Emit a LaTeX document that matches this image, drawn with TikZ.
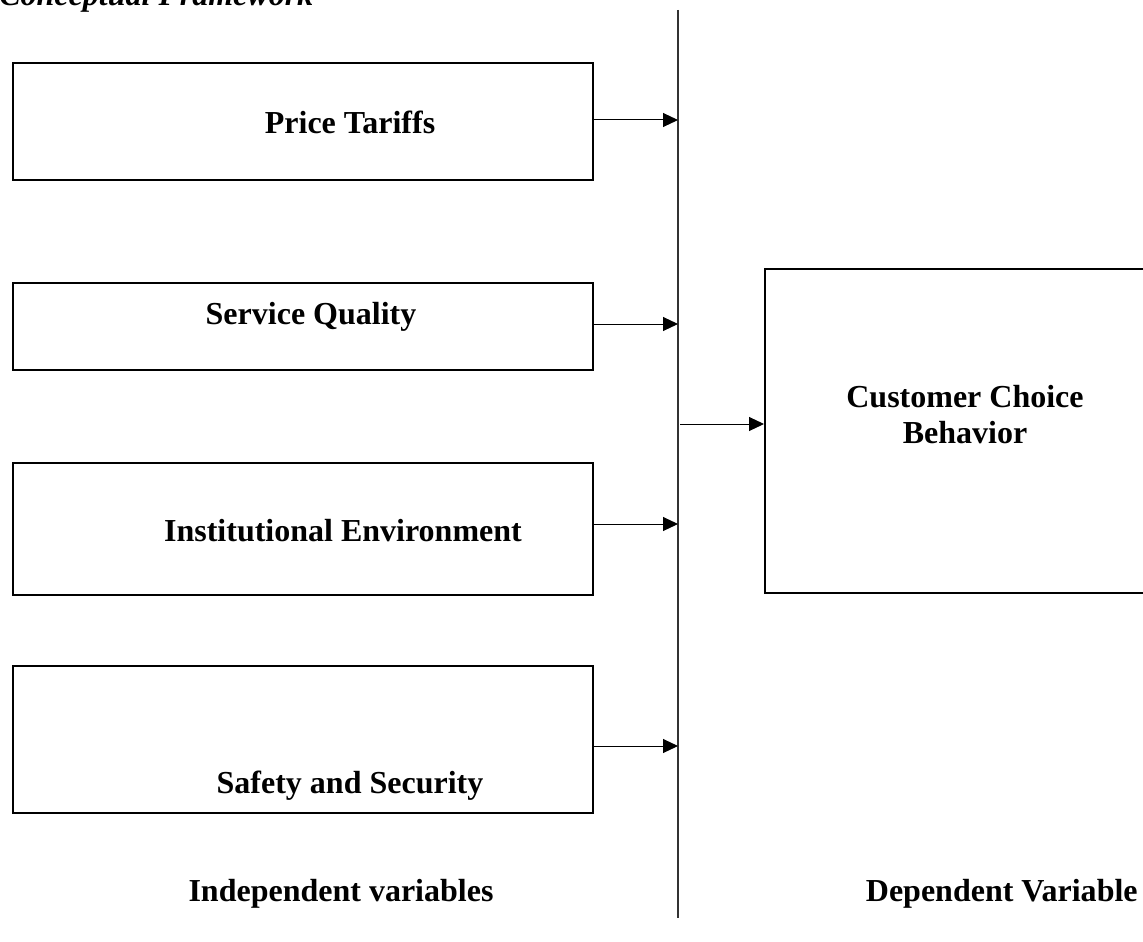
\documentclass[tikz,border=0pt]{standalone}
\usepackage{fontspec}
\setmainfont{Liberation Serif}
\usetikzlibrary{arrows.meta}
\tikzset{
  boxnode/.style={draw=black, line width=1pt, inner sep=0pt, anchor=north west},
  lbl/.style={font=\fontsize{16}{18}\selectfont\bfseries, anchor=base, inner sep=0pt},
  conn/.style={line width=0.5pt, -{Triangle[length=7.5pt,width=7pt]}},
}
\begin{document}
\begin{tikzpicture}[x=0.5pt,y=-0.5pt]
\useasboundingbox (0,0) rectangle (1143,941);
% title (cut at top)
\node[font=\fontsize{16}{18}\selectfont\bfseries\itshape, anchor=base west, inner sep=0pt] (title) at (-1,6) {Conceptual Framework};
% boxes
\node[boxnode, minimum width=290pt, minimum height=58.5pt] (b1) at (12,62) {};
\node[boxnode, minimum width=290pt, minimum height=43.5pt] (b2) at (12,282) {};
\node[boxnode, minimum width=290pt, minimum height=66pt] (b3) at (12,462) {};
\node[boxnode, minimum width=290pt, minimum height=73.5pt] (b4) at (12,665) {};
\node[boxnode, minimum width=203pt, minimum height=162pt] (rb) at (764,268) {};
% texts
\node[lbl] (t1) at (350,134) {Price Tariffs};
\node[lbl] (t2) at (311,324) {Service Quality};
\node[lbl] (t3) at (343,541) {Institutional Environment};
\node[lbl] (t4) at (350,793) {Safety and Security};
\node[lbl] (t5) at (965,407) {Customer Choice};
\node[lbl] (t6) at (965,443) {Behavior};
\node[lbl] (t7) at (341,901) {Independent variables};
\node[lbl, anchor=base east] (t8) at (1138,901) {Dependent Variable};
% vertical divider
\coordinate (vtop) at (678,10);
\coordinate (vbot) at (678,918);
\draw[line width=0.7pt, black!80] (vtop) -- (vbot);
% arrows
\draw[conn] ([yshift=0.75pt]b1.east) -- ([yshift=0.75pt]b1.east -| vtop);
\draw[conn] ([yshift=1.25pt]b2.east) -- ([yshift=1.25pt]b2.east -| vtop);
\draw[conn] ([yshift=2.5pt]b3.east) -- ([yshift=2.5pt]b3.east -| vtop);
\draw[conn] ([yshift=-3.25pt]b4.east) -- ([yshift=-3.25pt]b4.east -| vtop);
\draw[conn] ([yshift=3.5pt,xshift=1pt]rb.west -| vtop) -- ([yshift=3.5pt]rb.west);
\end{tikzpicture}
\end{document}
